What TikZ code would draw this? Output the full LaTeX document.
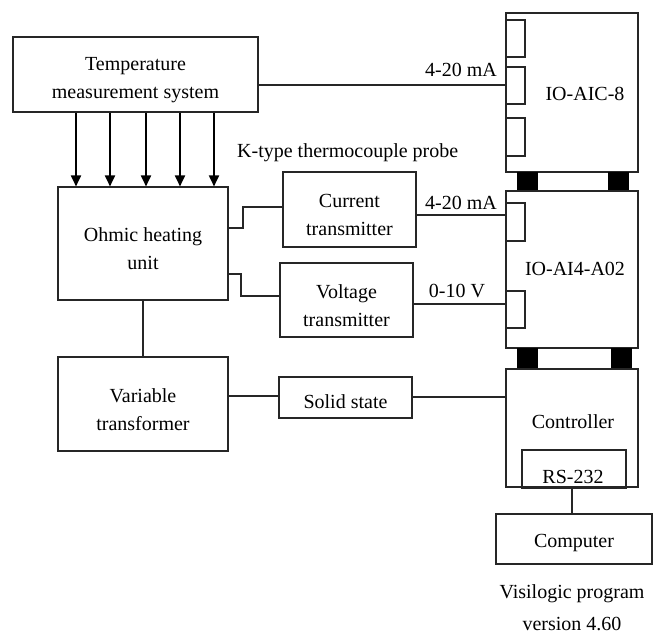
\documentclass[tikz,border=0pt]{standalone}
\usepackage{fontspec}
\setmainfont{Liberation Serif}
\usetikzlibrary{arrows.meta}
\begin{document}
\begin{tikzpicture}[x=1pt,y=-1pt,
 box/.style={draw=black!85,line width=1.1pt,inner sep=0pt,align=center,font=\fontsize{20}{28}\selectfont,
   text height=22pt},
 box2/.style={box,text height=53pt},
 plain/.style={draw=black!85,line width=1.1pt,inner sep=0pt},
 txt/.style={inner sep=0pt,font=\fontsize{20}{28}\selectfont},
 wire/.style={draw=black!85,line width=1.1pt},
 blk/.style={fill=black,draw=black,inner sep=0pt},
 arr/.style={line width=1.8pt,-{Triangle[length=11pt,width=10pt]}}]
\useasboundingbox (0,0) rectangle (653,634);
% left column
\node[box2,minimum width=245pt,minimum height=75pt] (temp) at (135.5,74.5) {Temperature\\measurement system};
\node[box2,minimum width=170pt,minimum height=113pt] (ohmic) at (143,243.5) {Ohmic heating\\unit};
\node[box2,minimum width=170pt,minimum height=94pt] (var) at (143,404) {Variable\\transformer};
% middle column
\node[box2,minimum width=133pt,minimum height=75pt] (cur) at (349.5,209.5) {Current\\transmitter};
\node[box2,minimum width=133pt,minimum height=74pt] (volt) at (346.5,300) {Voltage\\transmitter};
\node[box,minimum width=133pt,minimum height=41pt] (solid) at (345.5,397.5) {Solid state};
% right column
\node[plain,minimum width=132pt,minimum height=159pt] (aic) at (572,92.5) {};
\node[plain,minimum width=19pt,minimum height=37pt] (a1) at (515.5,38.5) {};
\node[plain,minimum width=19pt,minimum height=37pt] (a2) at (515.5,85.5) {};
\node[plain,minimum width=19pt,minimum height=38pt] (a3) at (515.5,137) {};
\node[txt,anchor=base] (aict) at (585,100) {IO-AIC-8};
\node[blk,minimum width=20pt,minimum height=18pt] (b1) at (527,181) {};
\node[blk,minimum width=20pt,minimum height=18pt] (b2) at (618,181) {};
\node[plain,minimum width=132pt,minimum height=157pt] (ai4) at (572,269.5) {};
\node[plain,minimum width=19pt,minimum height=38pt] (c1) at (515.5,222) {};
\node[plain,minimum width=19pt,minimum height=37pt] (c2) at (515.5,309.5) {};
\node[txt,anchor=base] (ai4t) at (575,275) {IO-AI4-A02};
\node[blk,minimum width=20pt,minimum height=20pt] (b3) at (527,358) {};
\node[blk,minimum width=20pt,minimum height=20pt] (b4) at (621,358) {};
\node[plain,minimum width=132pt,minimum height=118pt] (ctrl) at (572,428) {};
\node[txt,anchor=base] (ctrlt) at (573,428) {Controller};
\node[plain,minimum width=104pt,minimum height=38pt] (rs) at (574,469) {};
\node[txt,anchor=base] (rst) at (573,483) {RS-232};
\node[box,minimum width=156pt,minimum height=50pt] (comp) at (574,539) {Computer};
% labels
\node[txt,anchor=base east] (l1) at (497,77) {4-20 mA};
\node[txt,anchor=base east] (l2) at (497,209) {4-20 mA};
\node[txt,anchor=base] (l3) at (457,297) {0-10 V};
\node[txt,anchor=base west] (kt) at (237,157) {K-type thermocouple probe};
\node[txt,anchor=base] (v1) at (572,598) {Visilogic program};
\node[txt,anchor=base] (v2) at (572,630) {version 4.60};
% arrows
\foreach \x in {76,110,146,180,214}
  \draw[arr] (temp.south -| \x,0) -- (ohmic.north -| \x,0);
% wires
\draw[wire] (temp.east |- 0,85) -- (aic.west |- 0,85);
\draw[wire] (ohmic.east |- 0,228) -- (243,228) -- (243,207) -- (cur.west |- 0,207);
\draw[wire] (ohmic.east |- 0,274) -- (241,274) -- (241,296) -- (volt.west |- 0,296);
\draw[wire] (cur.east |- 0,215) -- (ai4.west |- 0,215);
\draw[wire] (volt.east |- 0,304) -- (ai4.west |- 0,304);
\draw[wire] (ohmic.south) -- (var.north);
\draw[wire] (var.east |- 0,396) -- (solid.west |- 0,396);
\draw[wire] (solid.east |- 0,397) -- (ctrl.west |- 0,397);
\draw[wire] (rs.south -| 572,0) -- (comp.north -| 572,0);
\end{tikzpicture}
\end{document}
